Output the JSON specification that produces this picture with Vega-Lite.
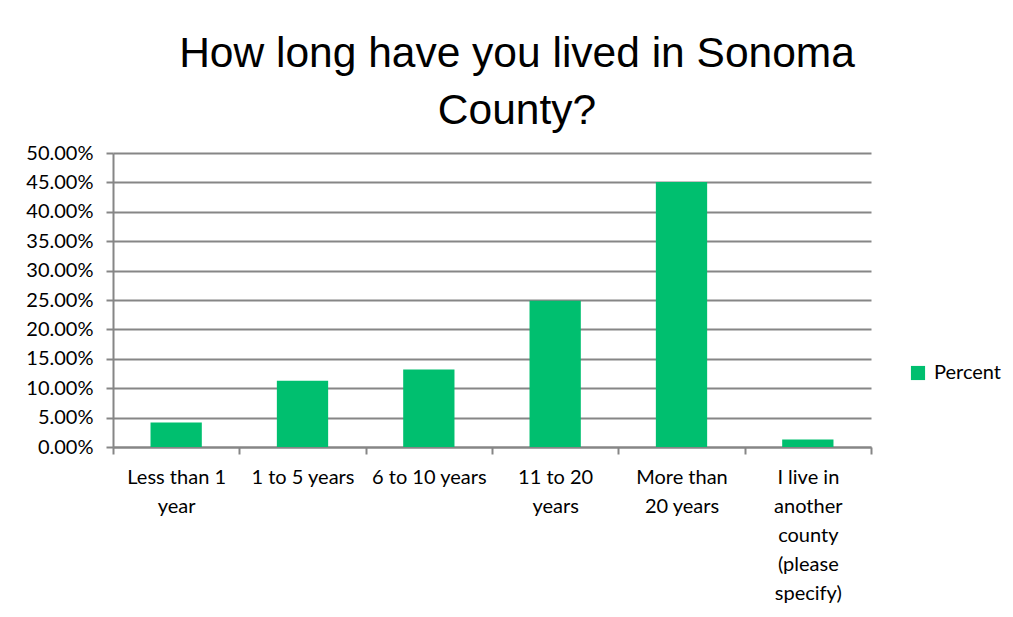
{
  "$schema": "https://vega.github.io/schema/vega-lite/v6.json",
  "width": 758,
  "height": 294,
  "autosize": {"type": "none"},
  "padding": {"left": 113, "top": 153, "right": 142, "bottom": 170},
  "background": "white",
  "title": {
    "text": ["How long have you lived in Sonoma", "County?"],
    "font": "Liberation Sans",
    "fontSize": 42.5,
    "fontWeight": "normal",
    "color": "#000000",
    "lineHeight": 57,
    "anchor": "middle",
    "dx": 25,
    "offset": 11
  },
  "data": {
    "values": [
      {"category": "Less than 1 year", "percent": 0.0416},
      {"category": "1 to 5 years", "percent": 0.1125},
      {"category": "6 to 10 years", "percent": 0.1319},
      {"category": "11 to 20 years", "percent": 0.2488},
      {"category": "More than 20 years", "percent": 0.4506},
      {"category": "I live in another county (please specify)", "percent": 0.0126}
    ]
  },
  "mark": {"type": "bar", "width": {"band": 0.406}},
  "encoding": {
    "x": {
      "field": "category",
      "type": "nominal",
      "sort": null,
      "title": null,
      "scale": {"paddingInner": 0, "paddingOuter": 0},
      "axis": {
        "tickBand": "extent",
        "labelAngle": 0,
        "labelFont": "Lato",
        "labelFontSize": 20,
        "labelColor": "#000000",
        "labelLineHeight": 29,
        "labelPadding": 13,
        "labelBaseline": "top",
        "labelLimit": 0,
        "domainColor": "#868686",
        "domainWidth": 2,
        "tickColor": "#868686",
        "tickWidth": 2,
        "tickSize": 7,
        "grid": false,
        "labelExpr": "datum.value == 'Less than 1 year' ? ['Less than 1', 'year'] : datum.value == '11 to 20 years' ? ['11 to 20', 'years'] : datum.value == 'More than 20 years' ? ['More than', '20 years'] : datum.value == 'I live in another county (please specify)' ? ['I live in', 'another', 'county', '(please', 'specify)'] : datum.value"
      }
    },
    "y": {
      "field": "percent",
      "type": "quantitative",
      "title": null,
      "scale": {"domain": [0, 0.5], "nice": false},
      "axis": {
        "values": [0, 0.05, 0.1, 0.15, 0.2, 0.25, 0.3, 0.35, 0.4, 0.45, 0.5],
        "format": ".2%",
        "labelFont": "Lato",
        "labelFontSize": 20,
        "labelColor": "#000000",
        "labelPadding": 13,
        "domainColor": "#868686",
        "domainWidth": 2,
        "tickColor": "#868686",
        "tickWidth": 2,
        "tickSize": 7,
        "gridColor": "#868686",
        "gridWidth": 2
      }
    },
    "color": {
      "datum": "Percent",
      "type": "nominal",
      "scale": {"range": ["#00BF6F"]},
      "legend": {
        "title": null,
        "orient": "none",
        "legendX": 795,
        "legendY": 210,
        "symbolType": "square",
        "symbolSize": 200,
        "symbolStrokeWidth": 0,
        "labelFont": "Lato",
        "labelFontSize": 20,
        "labelColor": "#000000",
        "labelOffset": 6
      }
    }
  },
  "config": {
    "view": {"stroke": null}
  }
}
